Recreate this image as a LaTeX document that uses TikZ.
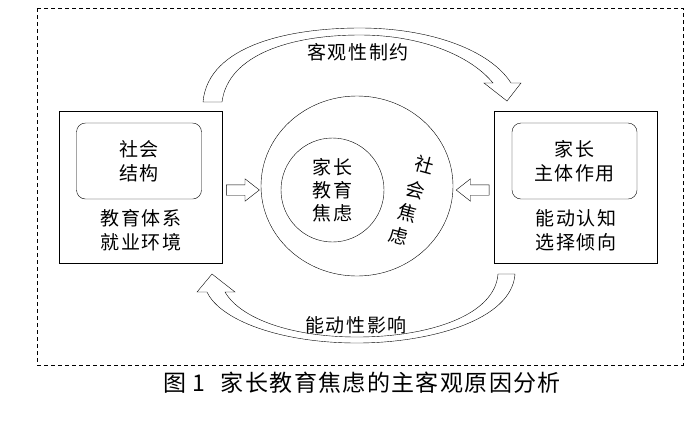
\documentclass[tikz,border=0pt]{standalone}
\usepackage{fontspec}
\newfontfamily\cjk[LetterSpace=8]{Noto Sans CJK SC}
\newfontfamily\cjkcap[LetterSpace=6]{Noto Sans CJK SC}
\usetikzlibrary{shapes.geometric}
\usetikzlibrary{shapes.arrows}
\tikzset{line width=1.0pt}

\begin{document}
\begin{tikzpicture}[x=1pt,y=-1pt]
  \useasboundingbox (0,0) rectangle (700,421);
  \tikzset{
    txt/.style={font=\cjk\fontsize{19}{24}\selectfont,align=center,inner sep=0pt},
    outerbox/.style={draw,minimum width=163pt,minimum height=152pt,inner sep=0pt},
    innerbox/.style={draw,rounded corners=9pt,minimum width=125pt,minimum height=76pt,inner sep=0pt},
    hollow/.style={draw,single arrow,single arrow tip angle=76,single arrow head extend=6pt,
      single arrow head indent=0pt,minimum height=33pt,minimum width=0pt,inner sep=5pt}
  }

  % frame
  \draw[line width=0.8pt,dash pattern=on 4pt off 3pt] (37,8) rectangle (683,365);

  % left box
  \node[outerbox] (lbox) at (140.5,187) {};
  \node[innerbox] (lin) at (139,161) {};
  \node[txt] (lt) at (lin) {社会\\结构};
  \node[txt] (lb) at (141,230) {教育体系\\就业环境};

  % right box
  \node[outerbox] (rbox) at (575.5,187) {};
  \node[innerbox] (rin) at (574.5,161) {};
  \node[txt] (rt) at (rin) {家长\\主体作用};
  \node[txt] (rb) at (576,230) {能动认知\\选择倾向};

  % circles
  \node[draw,ellipse,minimum width=192pt,minimum height=180pt,inner sep=0pt] (outer) at (357,186) {};
  \node[draw,ellipse,minimum width=103pt,minimum height=104pt,inner sep=0pt] (inner) at (332.5,190) {};
  \node[txt,font=\cjk\fontsize{19}{23}\selectfont] (it) at (inner) {家长\\教育\\焦虑};
  \node[txt,rotate=-15] (s1) at (425,165) {社};
  \node[txt,rotate=-15] (s2) at (416,190) {会};
  \node[txt,rotate=-15] (s3) at (408,213) {焦};
  \node[txt,rotate=-15] (s4) at (399,236) {虑};

  % straight arrows
  \node[hollow] (la) at (239.5,190) {};
  \node[hollow,shape border rotate=180] (ra) at (476,190) {};

  % curved arrows
  \draw (203,102) .. controls (208,45) and (290,28) .. (360,28)
    .. controls (430,28) and (490,50) .. (511,83) -- (521,83) -- (507,101) -- (484,83) -- (493,83)
    .. controls (470,55) and (420,35) .. (360,35)
    .. controls (290,35) and (228,55) .. (222,102) -- cycle;
  \node[txt] (top) at (358,52) {客观性制约};

  \draw (498,274) -- (515,274) .. controls (512,320) and (430,343) .. (357,343)
    .. controls (280,343) and (220,320) .. (207,292) -- (197,292) -- (212,274) -- (235,292) -- (225,292)
    .. controls (240,318) and (290,337) .. (357,337)
    .. controls (430,337) and (495,315) .. (498,274) -- cycle;
  \node[txt] (bot) at (356,325) {能动性影响};

  % caption
  \node[inner sep=0pt,font=\cjkcap\fontsize{23}{26}\selectfont] (cap) at (362,383)
    {图\hspace{6pt}1\hspace{16pt}家长教育焦虑的主客观原因分析};
\end{tikzpicture}
\end{document}
